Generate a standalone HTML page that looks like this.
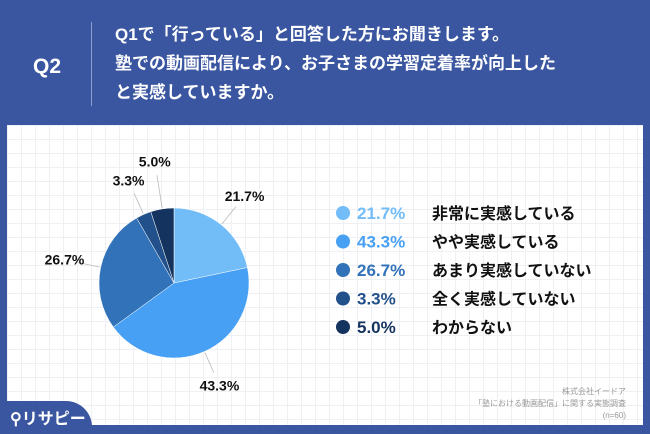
<!DOCTYPE html>
<html><head><meta charset="utf-8">
<style>
body{margin:0;width:650px;height:434px;overflow:hidden;background:#3b56a1;font-family:"Liberation Sans","Noto Sans CJK JP",sans-serif;position:relative}
.hdr{position:absolute;color:#fff;font-weight:bold}
#panel{position:absolute;left:7px;top:125px;width:636px;height:300px;background:#fff;
background-image:linear-gradient(#eef0f3 1px,transparent 1px),linear-gradient(90deg,#eef0f3 1px,transparent 1px);background-size:14px 14px}
</style></head><body>
<div class="hdr" style="left:33px;top:55px;font-size:21px">Q2</div>
<div style="position:absolute;left:91px;top:22px;width:1px;height:84px;background:#8aa0d0"></div>
<div class="hdr" style="left:115px;top:20px;font-size:17px;line-height:29px">Q1で「行っている」と回答した方にお聞きします。<br>塾での動画配信により、お子さまの学習定着率が向上した<br>と実感していますか。</div>
<div id="panel"></div>
<svg id="chart" width="650" height="434" style="position:absolute;left:0;top:0"></svg>
<div style="position:absolute;left:0;top:401px;width:92px;height:33px;background:#3b56a1;border-top-right-radius:26px"></div>
<div style="position:absolute;left:10px;top:405px;color:#fff;font-size:16px;font-weight:bold">⚲リサピー</div>
<div style="position:absolute;right:24px;top:386px;text-align:right;color:#999;font-size:8px;line-height:12px">株式会社イードア<br>「塾における動画配信」に関する実態調査<br>(n=60)</div>
<script>
const categories=["非常に実感している","やや実感している","あまり実感していない","全く実感していない","わからない"];
const values=[21.7,43.3,26.7,3.3,5.0];
const colors=["#72bcf8","#47a0f4","#3172b9","#22508a","#15335f"];
const NS="http://www.w3.org/2000/svg";
const svg=document.getElementById('chart');
const cx=174,cy=283,r=75;
const total=values.reduce((a,b)=>a+b,0);
function pt(a,rr){return [cx+rr*Math.sin(a),cy-rr*Math.cos(a)];}
let a0=0,prevSmall=false;
values.forEach((v,i)=>{
  const a1=a0+v/total*2*Math.PI;
  const p0=pt(a0,r),p1=pt(a1,r);
  const path=document.createElementNS(NS,'path');
  path.setAttribute('d',`M${cx},${cy}L${p0[0]},${p0[1]}A${r},${r} 0 ${a1-a0>Math.PI?1:0} 1 ${p1[0]},${p1[1]}Z`);
  path.setAttribute('fill',colors[i]);path.setAttribute('stroke','#fff');path.setAttribute('stroke-width','0.5');
  
  
  svg.appendChild(path);
  const m=(a0+a1)/2;
  const small=v<10;
  const extra=(small&&prevSmall)?11:0;
  const R=112+extra;
  const l1=pt(m,r+1),l2=pt(m,R-14);
  const ln=document.createElementNS(NS,'line');
  ln.setAttribute('x1',l1[0]);ln.setAttribute('y1',l1[1]);ln.setAttribute('x2',l2[0]);ln.setAttribute('y2',l2[1]);
  ln.setAttribute('stroke','#bbb');ln.setAttribute('stroke-width','0.8');
  
  
  svg.appendChild(ln);
  const lt=pt(m,R);
  const t=document.createElementNS(NS,'text');
  t.setAttribute('x',lt[0]);t.setAttribute('y',lt[1]+5);t.setAttribute('text-anchor','middle');
  t.setAttribute('font-size','14');t.setAttribute('font-weight','bold');t.setAttribute('fill','#111');
  t.textContent=v.toFixed(1)+'%';
  
  
  svg.appendChild(t);
  a0=a1;prevSmall=small;
});
categories.forEach((c,i)=>{
  const y=213+i*28.5;
  const d=document.createElementNS(NS,'circle');
  d.setAttribute('cx',343);d.setAttribute('cy',y);d.setAttribute('r',7);d.setAttribute('fill',colors[i]);
  
  
  svg.appendChild(d);
  const p=document.createElementNS(NS,'text');
  p.setAttribute('x',357);p.setAttribute('y',y+6);p.setAttribute('font-size','17');p.setAttribute('font-weight','bold');p.setAttribute('fill',colors[i]);
  p.textContent=values[i].toFixed(1)+'%';
  
  
  svg.appendChild(p);
  const l=document.createElementNS(NS,'text');
  l.setAttribute('x',432);l.setAttribute('y',y+6);l.setAttribute('font-size','16');l.setAttribute('font-weight','bold');l.setAttribute('fill','#111');
  l.textContent=c;
  
  
  svg.appendChild(l);
});
</script>
</body></html>
